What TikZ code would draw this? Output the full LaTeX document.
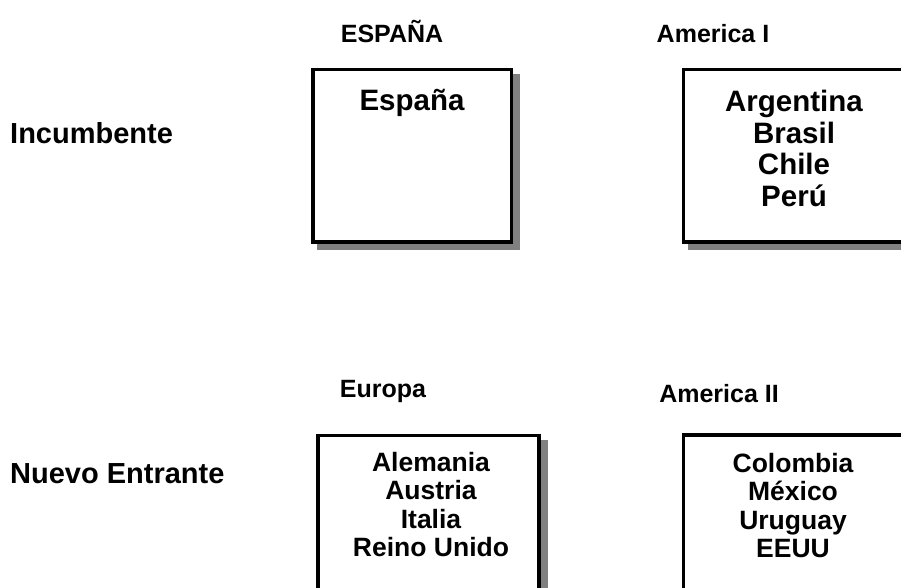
\documentclass[tikz,border=0pt]{standalone}
\usepackage{fontspec}
\setmainfont{Liberation Sans}
\usetikzlibrary{backgrounds}
\definecolor{shadowgray}{RGB}{128,128,128}
\begin{document}
\begin{tikzpicture}[x=1pt,y=-1pt,
  boxframe/.style={draw=black, line width=3.6pt, fill=white, rectangle, inner sep=0pt, outer sep=0pt, anchor=north west},
  lbl/.style={font=\bfseries\fontsize{29}{34}\selectfont, inner sep=0pt, anchor=base west},
  ttl/.style={font=\bfseries\fontsize{25}{30}\selectfont, inner sep=0pt, anchor=base},
  bigtxt/.style={font=\bfseries\fontsize{29.5}{31.7}\selectfont, align=center, inner sep=0pt, anchor=north},
  smalltxt/.style={font=\bfseries\fontsize{26.5}{28.3}\selectfont, align=center, inner sep=0pt, anchor=north}]
\useasboundingbox (0,0) rectangle (901,587);
\clip (0,0) rectangle (901,587);

% side labels
\node[lbl] (inc) at (10,143) {Incumbente};
\node[lbl] (nue) at (10,483) {Nuevo Entrante};

% titles
\node[ttl] (t1) at (392,42) {ESPAÑA};
\node[ttl] (t2) at (713,42) {America I};
\node[ttl] (t3) at (383,397) {Europa};
\node[ttl] (t4) at (719,402) {America II};

% boxes
\node[boxframe, minimum width=198.5pt, minimum height=172.3pt] (b1) at (313,69.5) {};
\node[boxframe, minimum width=222.5pt, minimum height=172.3pt] (b2) at (683.5,69.5) {};
\node[boxframe, minimum width=221pt, minimum height=174pt] (b3) at (318,435.5) {};
\node[boxframe, minimum width=222.5pt, minimum height=174pt] (b4) at (683.5,435) {};

\begin{scope}[on background layer]
  \foreach \b in {b1,b2,b3,b4}{
    \fill[shadowgray] ([shift={(4,4)}]\b.north west) rectangle ([shift={(8.5,8.5)}]\b.south east);
  }
\end{scope}

% box contents
\node[bigtxt] (c1) at (412,89) {España};
\node[bigtxt] (c2) at (794,90) {Argentina\\Brasil\\Chile\\Perú};
\node[smalltxt] (c3) at (431,452) {Alemania\\Austria\\Italia\\Reino Unido};
\node[smalltxt] (c4) at (793,453) {Colombia\\México\\Uruguay\\EEUU};
\end{tikzpicture}
\end{document}
